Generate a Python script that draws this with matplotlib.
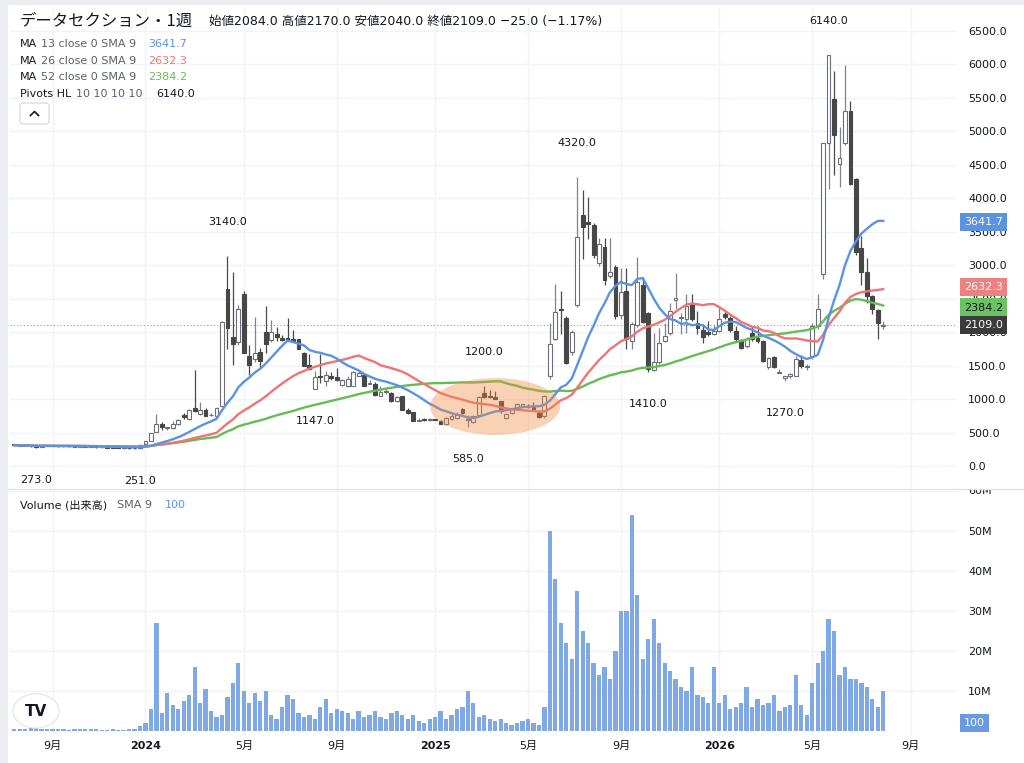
import numpy as np
import pandas as pd
import matplotlib
matplotlib.use("Agg")
import matplotlib.pyplot as plt
from matplotlib.patches import Ellipse, Rectangle, FancyBboxPatch, Circle
from matplotlib.lines import Line2D
from matplotlib.transforms import Bbox, TransformedBbox, blended_transform_factory

plt.rcParams['font.family'] = ['DejaVu Sans', 'Noto Sans CJK JP']

# weekly bars, first visible bar
start_date = "2023-07-17"

opens = [318, 312, 306, 310, 296, 285, 300, 305, 300, 296, 300, 294, 290, 292, 287, 284, 280, 283, 275, 272,
         268, 271, 264, 275, 330, 380, 515, 630, 565, 565, 620, 765, 700, 870, 775, 830, 755, 740, 890, 2650,
         1925, 1850, 2565, 1650, 1600, 1700, 2000, 1880, 1965, 1910, 1905, 1900, 1890, 1680, 1515, 1155, 1350, 1265, 1350, 1330,
         1205, 1195, 1200, 1350, 1365, 1230, 1230, 1050, 1110, 1090, 965, 1040, 830, 800, 675, 690, 690, 690, 665, 625,
         700, 715, 850, 690, 655, 765, 1090, 1050, 1030, 965, 715, 790, 865, 900, 900, 880, 790, 740, 1350, 1900,
         2350, 2215, 1700, 2400, 3750, 3640, 3605, 3030, 3275, 2830, 2965, 2250, 2615, 1865, 2100, 2700, 2280, 1440, 1550, 1865,
         1980, 2480, 2210, 2190, 2440, 2140, 2025, 2000, 1965, 2015, 2265, 2215, 2015, 1875, 1790, 1980, 1905, 1865, 1480, 1625,
         1390, 1315, 1340, 1350, 1580, 1480, 1640, 2090, 2865, 4830, 5475, 4515, 4830, 5300, 4280, 3250, 2890, 2540, 2330, 2084]
highs = [325, 320, 318, 315, 302, 305, 312, 315, 308, 305, 306, 300, 298, 296, 294, 290, 288, 286, 282, 280,
         276, 275, 272, 330, 380, 495, 780, 650, 585, 665, 700, 790, 850, 1430, 950, 860, 790, 880, 2170, 3140,
         2890, 2400, 2610, 1800, 2225, 1760, 2390, 2175, 2080, 1950, 2205, 2030, 1900, 1700, 1665, 1420, 1665, 1415, 1410, 1460,
         1300, 1340, 1420, 1440, 1380, 1290, 1250, 1190, 1150, 1100, 1050, 1050, 860, 810, 720, 715, 710, 700, 680, 730,
         770, 800, 870, 760, 760, 1040, 1200, 1130, 1120, 975, 790, 860, 935, 940, 930, 960, 830, 1060, 2130, 2725,
         2615, 2240, 2030, 4320, 4115, 4015, 3630, 3400, 3400, 3400, 3000, 2950, 2950, 2150, 3115, 2815, 2300, 1990, 2065, 2140,
         2440, 2880, 2290, 2575, 2575, 2315, 2115, 2165, 2100, 2390, 2315, 2240, 2090, 1890, 1930, 2090, 2090, 1880, 1630, 1640,
         1450, 1350, 1390, 1640, 1660, 1520, 2130, 2565, 4830, 6140, 5900, 5065, 5990, 5450, 4300, 3440, 3100, 2560, 2340, 2170]
lows = [305, 300, 298, 290, 273, 280, 292, 295, 290, 288, 290, 286, 282, 283, 280, 276, 272, 270, 266, 262,
        258, 256, 255, 251, 320, 370, 505, 540, 545, 555, 610, 700, 690, 800, 760, 740, 750, 730, 880, 1740,
        1515, 1800, 1680, 1365, 1560, 1465, 1690, 1850, 1865, 1860, 1860, 1860, 1740, 1490, 1440, 1147, 1240, 1190, 1290, 1270,
        1190, 1180, 1190, 1340, 1195, 1228, 1040, 1040, 1080, 955, 955, 830, 780, 665, 670, 665, 670, 680, 625, 615,
        690, 700, 780, 585, 640, 750, 1020, 1020, 1000, 790, 700, 780, 850, 880, 870, 850, 715, 720, 1300, 1880,
        1965, 1520, 1660, 2380, 3090, 3390, 3100, 2990, 2700, 2800, 2200, 2200, 1740, 1740, 2080, 2130, 1410, 1420, 1520, 1850,
        1960, 2340, 1965, 1990, 2160, 1965, 1840, 1940, 1950, 2000, 2200, 2000, 1860, 1740, 1760, 1860, 1840, 1550, 1450, 1465,
        1385, 1270, 1320, 1340, 1470, 1440, 1600, 2040, 2790, 4140, 4340, 4165, 4800, 4200, 3150, 2700, 2440, 2265, 1890, 2040]
closes = [312, 306, 310, 296, 285, 300, 305, 300, 296, 300, 294, 290, 292, 287, 284, 280, 283, 275, 272, 268,
          271, 264, 262, 320, 370, 490, 625, 575, 568, 630, 680, 725, 830, 825, 840, 750, 758, 865, 2150, 2065,
          1825, 2340, 1690, 1515, 1690, 1565, 1825, 2000, 1930, 1875, 1870, 1870, 1745, 1500, 1450, 1330, 1325, 1365, 1315, 1280,
          1290, 1300, 1405, 1390, 1200, 1235, 1055, 1110, 1115, 965, 1035, 835, 795, 675, 678, 688, 692, 688, 630, 715,
          750, 780, 790, 700, 750, 1025, 1030, 1030, 1005, 815, 780, 850, 925, 925, 880, 855, 730, 1040, 1815, 2300,
          2325, 1540, 2000, 3415, 3565, 3610, 3150, 3315, 2775, 2900, 2240, 2600, 1890, 2115, 2750, 2150, 1450, 1550, 1840, 1940,
          2315, 2515, 2220, 2390, 2190, 2065, 1930, 1965, 2015, 2200, 2230, 2030, 1890, 1765, 1900, 1890, 1865, 1565, 1615, 1480,
          1392, 1350, 1375, 1600, 1490, 1485, 2090, 2350, 4830, 6140, 4940, 4605, 5300, 4205, 3190, 2890, 2540, 2350, 2140, 2109]
# volume in millions
volumes = [0.6, 0.4, 0.5, 0.7, 0.9, 0.5, 0.4, 0.6, 0.5, 0.4, 0.3, 0.5, 0.4, 0.6, 0.5, 0.4, 0.3, 0.3, 0.4, 0.3,
           0.3, 0.4, 0.5, 1.2, 2.0, 5.5, 27.0, 4.5, 9.5, 6.5, 5.5, 7.5, 9.0, 16.0, 7.0, 10.5, 5.0, 3.5, 4.0, 8.5,
           12.0, 17.0, 10.0, 7.0, 9.5, 7.5, 10.0, 4.0, 3.0, 6.0, 9.0, 8.0, 4.5, 3.5, 4.0, 3.0, 6.0, 8.0, 4.5, 5.5,
           5.0, 4.5, 3.0, 5.0, 3.5, 4.0, 5.0, 3.5, 3.0, 4.5, 5.0, 4.0, 3.0, 4.0, 2.5, 2.0, 3.0, 3.5, 5.0, 3.0,
           4.0, 5.5, 6.0, 10.0, 7.0, 3.5, 4.0, 3.0, 2.5, 3.0, 2.0, 1.5, 2.0, 2.5, 3.0, 2.0, 1.5, 6.0, 50.0, 38.0,
           27.0, 22.0, 18.0, 35.0, 25.0, 22.0, 17.0, 14.0, 16.0, 13.0, 20.0, 30.0, 30.0, 54.0, 34.0, 18.0, 23.0, 28.0, 22.0, 17.0,
           15.0, 13.0, 11.0, 10.0, 16.0, 9.0, 8.5, 7.0, 16.0, 7.0, 9.0, 5.5, 6.0, 7.0, 11.0, 6.0, 8.0, 6.5, 7.0, 9.0,
           5.0, 6.0, 6.5, 14.0, 6.5, 4.0, 12.0, 17.0, 20.0, 28.0, 25.0, 14.0, 16.0, 13.0, 13.0, 12.0, 11.0, 8.0, 6.0, 10.0]

pivot_high_idx = [39, 86, 103, 149]
pivot_low_idx = [4, 23, 55, 83, 116, 141]

tick_months = [(2023, 9), (2024, 1), (2024, 5), (2024, 9), (2025, 1), (2025, 5),
               (2025, 9), (2026, 1), (2026, 5), (2026, 9)]

W, H = 1024, 763
fig = plt.figure(figsize=(W / 100, H / 100), dpi=100)
fig.patch.set_facecolor('white')


def fx(px):
    return px / W


def fy(py):
    return 1 - py / H


# pixel geometry of the panels
x0_px, dx_px = 14.3, 5.465
left_px, right_px = 10, 957
main_top, main_bot = 8, 488
vol_top, vol_bot = 490, 735
zero_px, s = 466, 435.3 / 6500

xlim = ((left_px - x0_px) / dx_px, (right_px - x0_px) / dx_px)
ax = fig.add_axes([fx(left_px), fy(main_bot), (right_px - left_px) / W, (main_bot - main_top) / H])
axv = fig.add_axes([fx(left_px), fy(vol_bot), (right_px - left_px) / W, (vol_bot - vol_top) / H])
ax.set_xlim(*xlim)
axv.set_xlim(*xlim)
ax.set_ylim(-(main_bot - zero_px) / s, (zero_px - main_top) / s)
axv.set_ylim(-(vol_bot - 731) / 4, (731 - vol_top) / 4)

o = np.array(opens, float)
h = np.array(highs, float)
l = np.array(lows, float)
c = np.array(closes, float)
v = np.array(volumes, float)
idx = np.arange(len(c))

ext = pd.date_range(start_date, periods=len(c) + 20, freq='7D')
tick_pos = [int(np.argmax(ext >= pd.Timestamp(y, m, 1))) for y, m in tick_months]
tick_lab = [str(y) if m == 1 else f"{m}月" for y, m in tick_months]

grid_c = '#f0f3fa'
for a in (ax, axv):
    for sp in a.spines.values():
        sp.set_visible(False)
    for t in tick_pos:
        a.axvline(t, color=grid_c, lw=1, zorder=0)
for val in range(0, 7000, 500):
    ax.axhline(val, color=grid_c, lw=1, zorder=0)
for val in range(10, 70, 10):
    axv.axhline(val, color=grid_c, lw=1, zorder=0)

# candles
up = c >= o
ax.vlines(idx[up], l[up], h[up], color='#80838c', lw=0.9, zorder=2)
ax.vlines(idx[~up], l[~up], h[~up], color='#4a4a4a', lw=0.9, zorder=2)
bot = np.minimum(o, c)
bh = np.maximum(np.abs(c - o), 10)
ax.bar(idx[up], bh[up], bottom=bot[up], width=0.7, facecolor='white', edgecolor='#6b6e76', lw=0.8, zorder=3)
ax.bar(idx[~up], bh[~up], bottom=bot[~up], width=0.7, facecolor='#474747', edgecolor='#474747', lw=0.8, zorder=3)

# moving averages
cs = pd.Series(c)
ma13 = cs.rolling(13, min_periods=1).mean()
ma26 = cs.rolling(26, min_periods=1).mean()
ma52 = cs.rolling(52, min_periods=1).mean()
blue, red, green = '#5b93e3', '#ef7474', '#66bb55'
ax.plot(idx, ma52, color=green, lw=1.7, zorder=4)
ax.plot(idx, ma26, color=red, lw=1.7, zorder=4)
ax.plot(idx, ma13, color=blue, lw=1.7, zorder=4)

# highlight ellipse
ax.add_patch(Ellipse((88.0, 888), width=23.8, height=850, facecolor='#f08a40', alpha=0.38, lw=0, zorder=5))

# last price dotted line
ax.axhline(c[-1], color='#9598a1', ls=(0, (1, 2)), lw=0.8, zorder=1)

# pivot labels
for i in pivot_high_idx:
    ax.annotate(f"{h[i]:.1f}", xy=(i, h[i]), xytext=(0, 24), textcoords='offset points',
                ha='center', va='center', fontsize=8, color='#131722', zorder=6, annotation_clip=False)
for i in pivot_low_idx:
    ax.annotate(f"{l[i]:.1f}", xy=(i, l[i]), xytext=(0, -23), textcoords='offset points',
                ha='center', va='center', fontsize=8, color='#131722', zorder=6, annotation_clip=False)

# volume
axv.bar(idx, v, width=0.78, color='#7fa8e6', zorder=2)

# axes ticks
ax.yaxis.tick_right()
ax.set_yticks(range(0, 7000, 500))
ax.set_yticklabels([f"{t:.1f}" for t in range(0, 7000, 500)])
ax.tick_params(axis='y', length=0, pad=8, labelsize=8, labelcolor='#131722')
ax.set_xticks([])
axv.yaxis.tick_right()
axv.set_yticks(range(10, 60, 10))
axv.set_yticklabels([f"{t}M" for t in range(10, 60, 10)])
axv.tick_params(axis='y', length=0, pad=8, labelsize=8, labelcolor='#131722')
axv.set_xticks(tick_pos)
axv.set_xticklabels(tick_lab)
axv.tick_params(axis='x', length=0, pad=4, labelsize=8, labelcolor='#131722')
for lab in axv.get_xticklabels():
    if not lab.get_text().endswith('月'):
        lab.set_fontweight('bold')

t60 = axv.text(1, 60, '60M', transform=blended_transform_factory(axv.transAxes, axv.transData),
               ha='left', va='center', fontsize=8, color='#131722')
t60.set_x(1 + 11 / (right_px - left_px))
t60.set_clip_box(TransformedBbox(Bbox([[0, fy(vol_bot)], [1, fy(vol_top)]]), fig.transFigure))
t60.set_clip_on(True)


def price_box(a, val, text, fc, tc, dy=0.0):
    a.annotate(text, xy=(1, val), xycoords=('axes fraction', 'data'), xytext=(5, dy),
               textcoords='offset points', ha='left', va='center', fontsize=8, color=tc,
               bbox=dict(boxstyle='square,pad=0.38', fc=fc, ec='none'), zorder=10, annotation_clip=False)


price_box(ax, 3641.7, '3641.7', '#5b93e3', 'white')
price_box(ax, 2632.3, '2632.3', '#ee8080', 'white', dy=2.0)
price_box(ax, 2384.2, '2384.2', '#6cc160', '#131722', dy=-1.0)
price_box(ax, c[-1], f"{c[-1]:.1f}", '#3b3b3b', 'white')
price_box(axv, 2.0, '100', '#6a9be0', 'white')

# frame strips and separator
fig.add_artist(Rectangle((0, fy(5)), 1, 5 / H, transform=fig.transFigure, color='#eceef2', lw=0))
fig.add_artist(Rectangle((0, 0), fx(8), 1, transform=fig.transFigure, color='#eceef2', lw=0))
fig.add_artist(Line2D([fx(8), 1], [fy(489), fy(489)], transform=fig.transFigure, color='#e0e3eb', lw=1))

# header texts
dark, grey = '#131722', '#5d606b'
fig.text(fx(20), fy(21), 'データセクション・1週', fontsize=11.8, va='center', color=dark,
         family=['Noto Sans CJK JP', 'DejaVu Sans'])
fig.text(fx(209), fy(21), '始値2084.0 高値2170.0 安値2040.0 終値2109.0 −25.0 (−1.17%)',
         fontsize=9, va='center', color=dark, family=['DejaVu Sans', 'Noto Sans CJK JP'])
legend_rows = [('MA', '13 close 0 SMA 9', '3641.7', blue, 148),
               ('MA', '26 close 0 SMA 9', '2632.3', red, 148),
               ('MA', '52 close 0 SMA 9', '2384.2', green, 148),
               ('Pivots HL', '10 10 10 10', '6140.0', dark, 156)]
for row, (name, params, val, col, vx) in enumerate(legend_rows):
    yy = 44 + row * 16.7
    fig.text(fx(20), fy(yy), name, fontsize=8, va='center', color=dark)
    fig.text(fx(41 if name == 'MA' else 76), fy(yy), params, fontsize=8, va='center', color=grey)
    fig.text(fx(vx), fy(yy), val, fontsize=8, va='center', color=col)

fig.add_artist(FancyBboxPatch((fx(20), fy(124)), 29 / W, 21 / H, boxstyle='round,pad=0,rounding_size=0.004',
                              transform=fig.transFigure, fc='white', ec='#d1d4dc', lw=0.8))
fig.add_artist(Line2D([fx(30.5), fx(34.5), fx(38.5)], [fy(115.5), fy(111.5), fy(115.5)],
                      transform=fig.transFigure, color=dark, lw=1.2))

fig.text(fx(20), fy(505), 'Volume (出来高)', fontsize=8, va='center', color=dark)
fig.text(fx(117), fy(505), 'SMA 9', fontsize=8, va='center', color=grey)
fig.text(fx(165), fy(505), '100', fontsize=8, va='center', color=blue)

# logo
fig.add_artist(Circle((fx(36), fy(711)), 23 / W, transform=fig.transFigure, fc='white', ec='#e0e3eb', lw=0.8))
fig.text(fx(36), fy(711), 'TV', fontsize=11, fontweight='bold', ha='center', va='center', color=dark)

fig.savefig('out.png', dpi=100, facecolor='white')
